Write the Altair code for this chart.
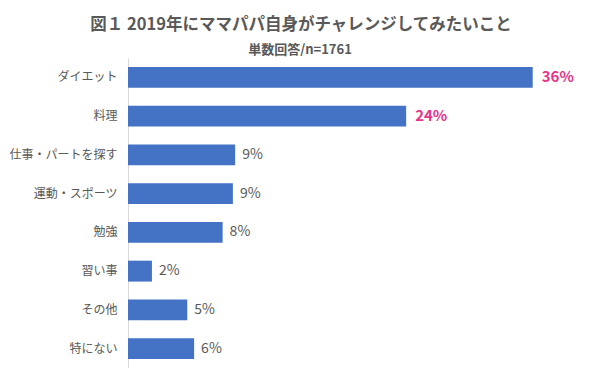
import altair as alt
import pandas as pd

title_text = ["図１ 2019年にママパパ自身がチャレンジしてみたいこと"]
subtitle_text = ["単数回答/n=1761"]
categories = ["ダイエット", "料理", "仕事・パートを探す", "運動・スポーツ", "勉強", "習い事", "その他", "特にない"]
values = [35.5, 24.4, 9.4, 9.2, 8.3, 2.1, 5.2, 5.8]
labels = ["36%", "24%", "9%", "9%", "8%", "2%", "5%", "6%"]
highlight = [True, True, False, False, False, False, False, False]

FONT = "Noto Sans CJK JP"
GRAY = "#595959"
PINK = "#E6358B"
BLUE = "#4472C4"

df = pd.DataFrame({"category": categories, "value": values, "label": labels, "hl": highlight})

y_enc = alt.Y(
    "category:N",
    sort=categories,
    scale=alt.Scale(paddingInner=0.46, paddingOuter=0.23),
    axis=alt.Axis(
        title=None, ticks=False, labelFontSize=12, labelColor=GRAY, labelFont=FONT,
        labelPadding=11, domainColor="#D9D9D9", domainWidth=1,
    ),
)
x_enc = alt.X("value:Q", scale=alt.Scale(domain=[0, 40]), axis=None)

base = alt.Chart(df).encode(y=y_enc, x=x_enc)

bars = base.mark_bar(color=BLUE)

txt_normal = base.transform_filter("!datum.hl").mark_text(
    align="left", baseline="middle", dx=7, fontSize=14, color=GRAY, font=FONT
).encode(text="label:N")

txt_hl = base.transform_filter("datum.hl").mark_text(
    align="left", baseline="middle", dx=9, fontSize=15, fontWeight="bold", color=PINK, font=FONT
).encode(text="label:N")

title = alt.Chart(pd.DataFrame({"t": title_text})).mark_text(
    align="center", baseline="middle", fontSize=16.5, fontWeight="bold", color=GRAY, font=FONT
).encode(text="t:N", x=alt.value(173), y=alt.value(-33))

subtitle = alt.Chart(pd.DataFrame({"t": subtitle_text})).mark_text(
    align="center", baseline="middle", fontSize=13, fontWeight="bold", color=GRAY, font=FONT
).encode(text="t:N", x=alt.value(172), y=alt.value(-8))

chart = alt.layer(bars, txt_normal, txt_hl, title, subtitle).properties(
    width=456,
    height=310,
    autosize="none",
    padding={"left": 120, "top": 50, "right": 8, "bottom": 0},
).configure(background="white").configure_view(stroke=None)

chart.save("out.html", embed_options={"renderer": "svg", "actions": False})
